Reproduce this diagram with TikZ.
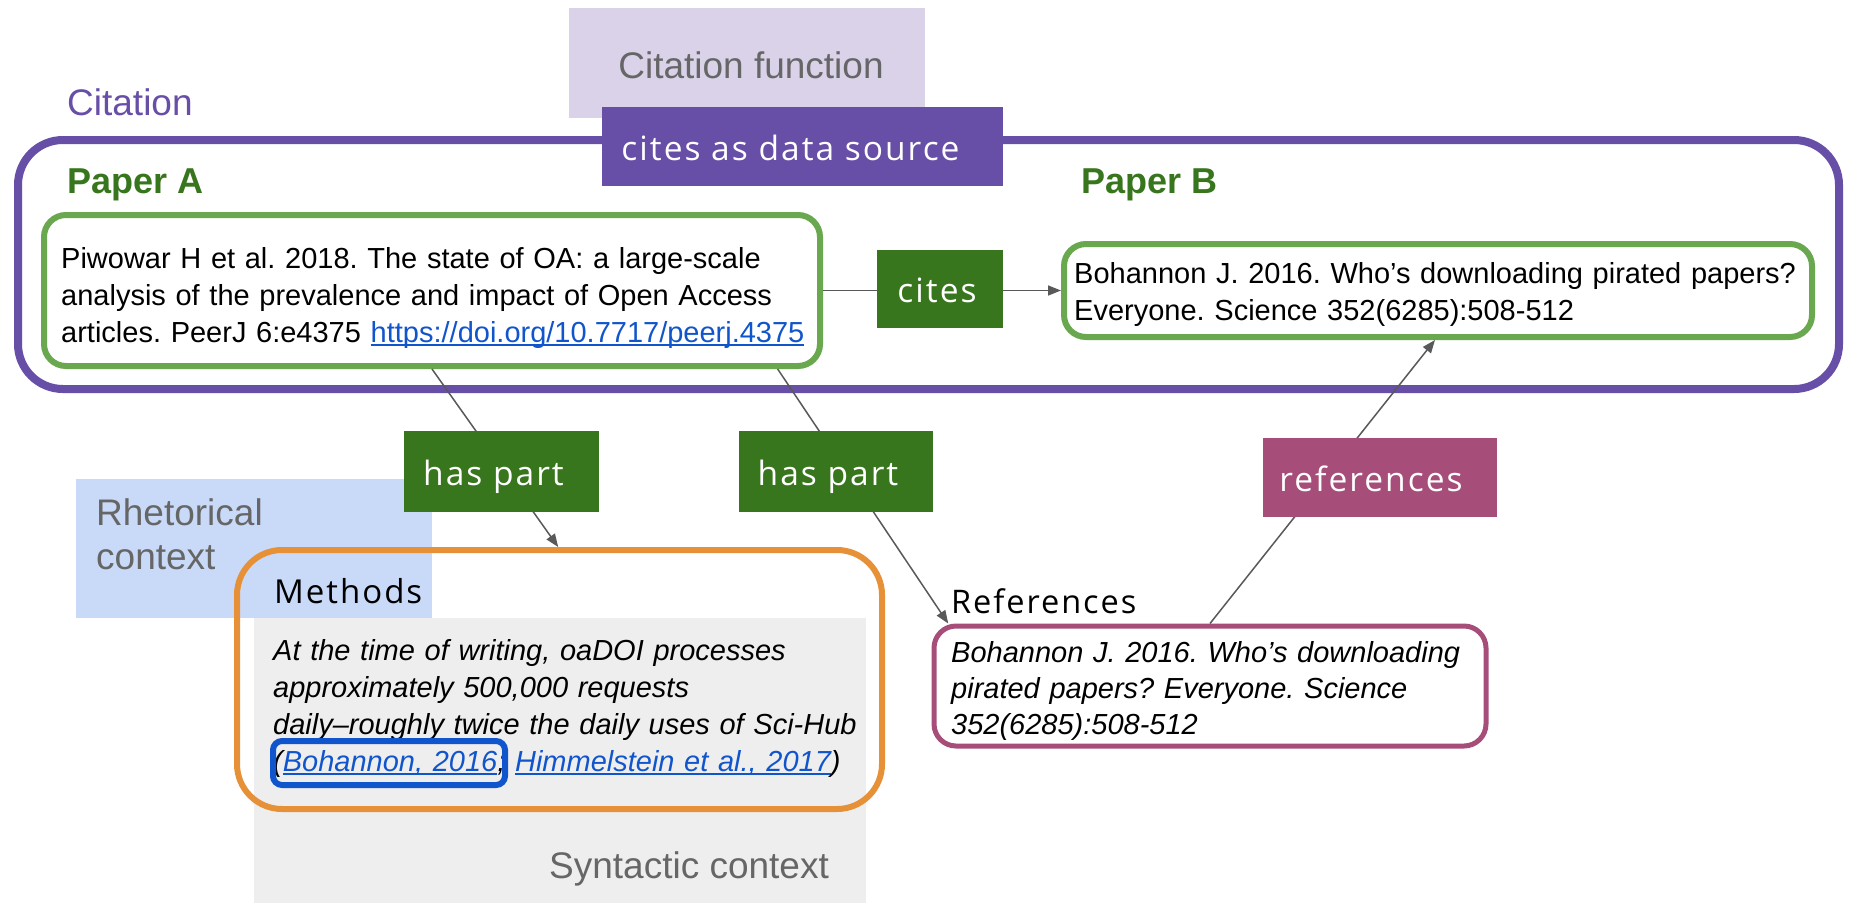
\documentclass[tikz,border=0pt]{standalone}
\usepackage{fontspec}
\setmainfont{Liberation Sans}
\newfontfamily\lblfont[LetterSpace=6]{Open Sans}
\usetikzlibrary{arrows.meta,calc}
\definecolor{cpurple}{HTML}{674EA7}
\definecolor{clav}{HTML}{D9D2E9}
\definecolor{cdgreen}{HTML}{38761D}
\definecolor{clgreen}{HTML}{6AA84F}
\definecolor{cmag}{HTML}{A64D79}
\definecolor{corange}{HTML}{E69138}
\definecolor{clblue}{HTML}{C9DAF8}
\definecolor{cgreybg}{HTML}{EEEEEE}
\definecolor{ctgrey}{HTML}{666666}
\definecolor{clink}{HTML}{1155CC}
\definecolor{cconn}{HTML}{595959}
\newcommand\lnk[1]{\leavevmode{\color{clink}\setbox0\hbox{#1}\rlap{\rule[-3.5pt]{\wd0}{1.8pt}}\box0}}
\newcommand\fs[2]{\fontsize{#1pt}{#2pt}\selectfont}
\newcommand\lft[2]{#2\kern#1pt}
\frenchspacing
\begin{document}
\frenchspacing
\begin{tikzpicture}[x=1pt,y=-1pt,
  area/.style={inner sep=0pt, draw=none},
  paperbox/.style={draw=clgreen, line width=6pt, fill=white, rounded corners=22pt, inner sep=0pt},
  lblbox/.style={inner sep=0pt, text=white, font=\lblfont\fs{33.5}{38}, text height=28pt, text depth=1pt},
  bigtxt/.style={inner sep=0pt, anchor=base west, font=\fs{37}{44}},
  bodytxt/.style={inner sep=0pt, anchor=base west, align=left, font=\fs{29}{37}},
  conn/.style={draw=cconn, line width=1.5pt, -{Triangle[length=13pt,width=10pt]}}]
\useasboundingbox (0,0) rectangle (1849,903);
\fill[white] (0,0) rectangle (1849,903);

% background areas
\node[area, fill=clav, minimum width=356pt, minimum height=110pt] (cfun) at (747,63) {};
\node[area, fill=clblue, minimum width=356pt, minimum height=139pt] (rhet) at (254,548.5) {};
\node[area, fill=cgreybg, minimum width=612pt, minimum height=285pt] (synt) at (560,760.5) {};

\node[inner sep=0pt, anchor=base, font=\fs{37}{44}, text=ctgrey] (cfuntxt) at (751,78) {Citation function};
\node[bigtxt, text=ctgrey, text width=300pt] (rhettxt) at (96,525) {Rhetorical\\context};
\node[inner sep=0pt, anchor=base, font=\fs{37}{44}, text=ctgrey] (synttxt) at (689,878) {Syntactic context};

% citation frame
\node[inner sep=0pt, draw=cpurple, line width=8pt, rounded corners=45pt, minimum width=1821pt, minimum height=249pt] (citframe) at (928.5,264.5) {};
\node[bigtxt, text=cpurple] (cittxt) at (67,115) {Citation};
\node[bigtxt, text=cdgreen, font=\fs{36}{44}\bfseries] (patxt) at (67,193) {Paper A};
\node[bigtxt, text=cdgreen, font=\fs{36}{44}\bfseries] (pbtxt) at (1081,193) {Paper B};

% papers
\node[paperbox, minimum width=776pt, minimum height=151pt] (pa) at (432,290.5) {};
\node[bodytxt, text width=760pt] (patext) at (61,268) {Piwowar H et al. 2018. The state of OA: a large-scale\\analysis of the prevalence and impact of Open Access\\articles. PeerJ 6:e4375 \lnk{https://doi.org/10.7717/peerj.4375}};
\node[paperbox, minimum width=748pt, minimum height=93pt] (pb) at (1438,290.5) {};
\node[bodytxt, text width=740pt] (pbtext) at (1074,283) {Bohannon J. 2016. Who’s downloading pirated papers?\\Everyone. Science 352(6285):508-512};

% methods
\node[inner sep=0pt, draw=corange, line width=6pt, rounded corners=45pt, minimum width=645pt, minimum height=259pt] (meth) at (559.5,679.5) {};
\node[inner sep=0pt, anchor=base west, font=\lblfont\fs{33}{38}] (methlbl) at (274,603) {Methods};
\node[bodytxt, text width=620pt, font=\fs{29}{37}\itshape] (methtext) at (273,660) {At the time of writing, oaDOI processes\\approximately 500,000 requests\\daily–roughly twice the daily uses of Sci-Hub\\(\lnk{Bohannon, 2016}; \lnk{Himmelstein et al., 2017})};
\node[inner sep=0pt, draw=clink, line width=6pt, rounded corners=9pt, minimum width=232pt, minimum height=44pt] (citebox) at (389,763) {};

% bibliography
\node[paperbox, draw=cmag, line width=5pt, minimum width=552pt, minimum height=120pt] (bib) at (1210,686) {};
\node[inner sep=0pt, anchor=base west, font=\lblfont\fs{32.5}{38}] (reflbl) at (951,613) {References};
\node[bodytxt, text width=540pt, font=\fs{29}{36}\itshape] (bibtext) at (951,662) {Bohannon J. 2016. Who’s downloading\\pirated papers? Everyone. Science\\352(6285):508-512};

% connectors
\draw[conn] (pa.east) -- (pb.west);
\draw[conn] ($(pa.south west)!0.5!(pa.south east)$) -- ($(meth.north west)!0.498!(meth.north east)$);
\draw[conn] ($(pa.south west)!0.942!(pa.south east)$) -- ($(bib.north west)!0.03!(bib.north east)$);
\draw[conn] ($(bib.north west)!0.5!(bib.north east)$) -- ($(pb.south west)!0.496!(pb.south east)$);

% relation labels
\node[lblbox, fill=cpurple, minimum width=401pt, minimum height=79pt] (citesas) at (802.5,146.5) {\lft{24}{cites as data source}};
\node[lblbox, fill=cdgreen, minimum width=126pt, minimum height=78pt] (cites) at (940,289) {\lft{6}{cites}};
\node[lblbox, fill=cdgreen, minimum width=195pt, minimum height=81pt] (haspartA) at (501.5,471.5) {\lft{16}{has part}};
\node[lblbox, fill=cdgreen, minimum width=194pt, minimum height=81pt] (haspartB) at (836,471.5) {\lft{16}{has part}};
\node[lblbox, fill=cmag, minimum width=234pt, minimum height=79pt] (refs) at (1380,477.5) {\lft{18}{references}};
\end{tikzpicture}
\end{document}
